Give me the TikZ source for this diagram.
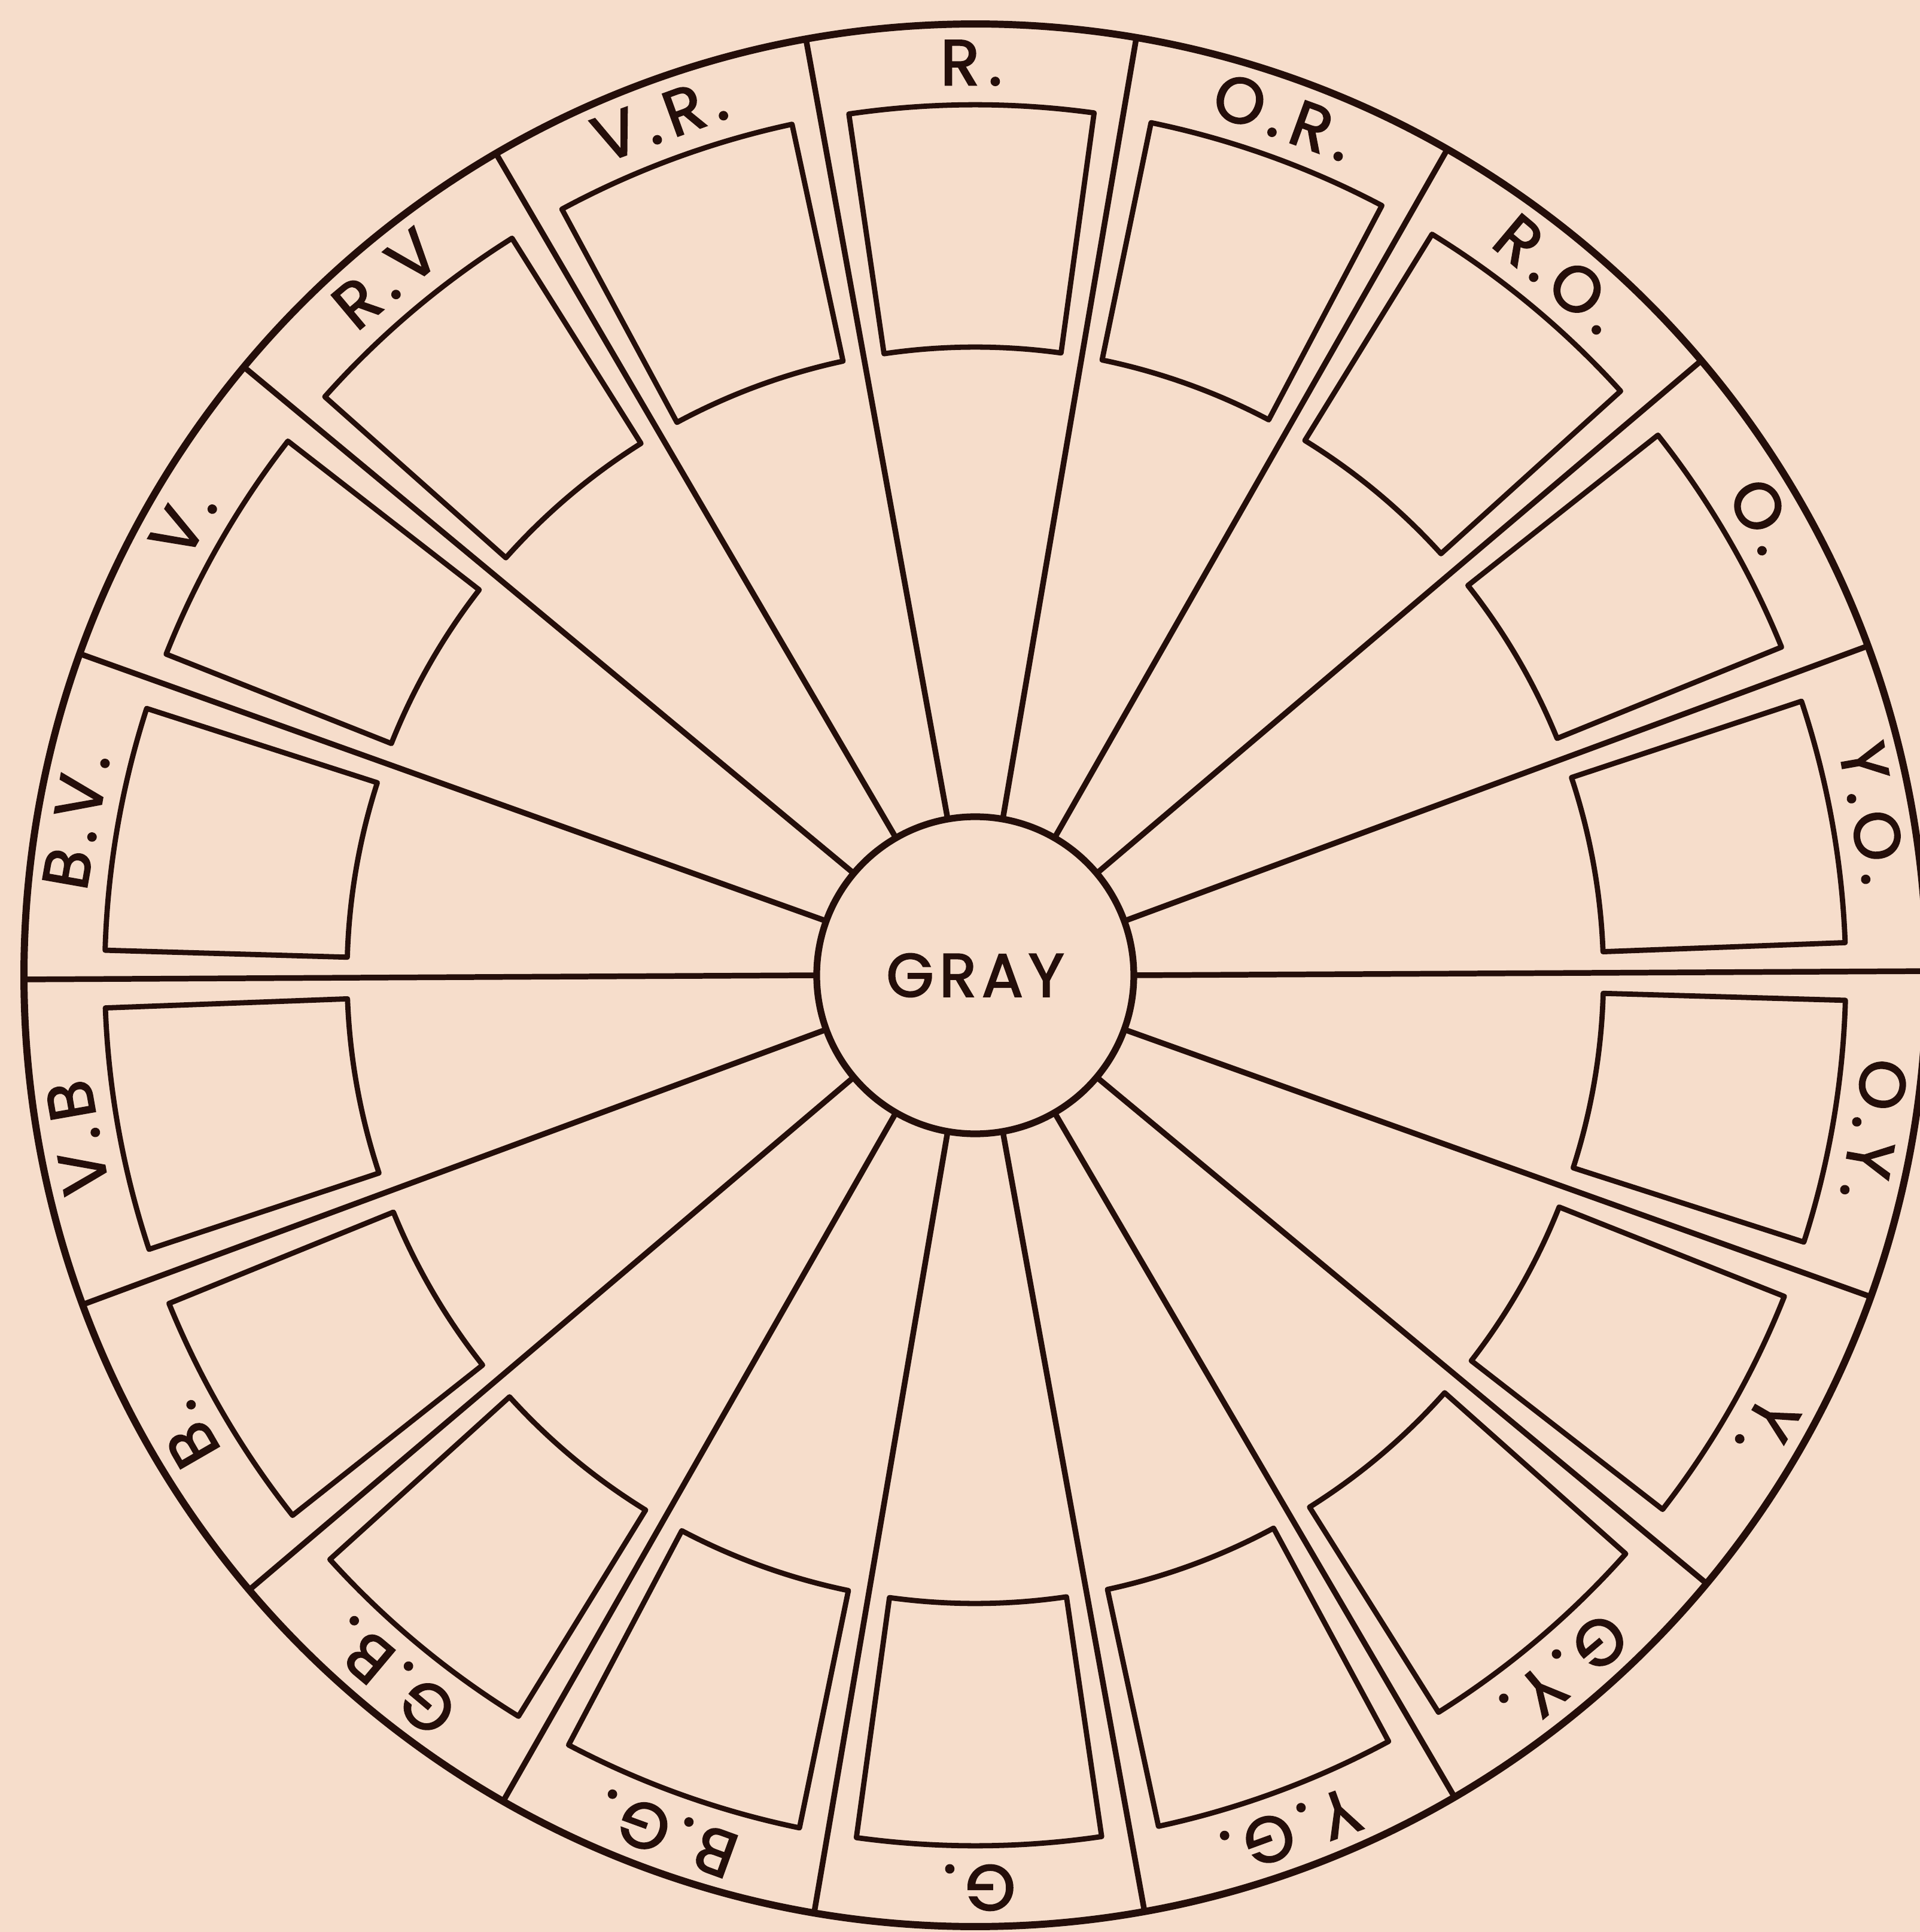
\documentclass[tikz,border=0pt]{standalone}
\usepackage{fontspec}
\setmainfont{Poppins}
\newfontfamily\lblfont{Poppins}[FakeBold=2.4, LetterSpace=14]
\newfontfamily\grayfont{Poppins}[FakeBold=2.4, LetterSpace=9]
\definecolor{paper}{RGB}{246,221,203}
\definecolor{ink}{RGB}{36,14,10}
\begin{document}
\begin{tikzpicture}[
  ringline/.style={draw=ink, line width=3.4pt},
  spoke/.style={draw=ink, line width=2.7pt},
  swatch/.style={draw=ink, line width=2.5pt, line join=round},
  lbl/.style={text=ink, font=\lblfont\fontsize{30.5}{32}\selectfont, inner sep=0pt},
]
\useasboundingbox[fill=paper] (-16.30,-15.99) rectangle (15.79,16.30);
\begin{scope}[rotate=0.25]
  \node[circle, draw=ink, line width=3.2pt, minimum size=5.3cm, inner sep=0pt, outer sep=0pt,
        text=ink, font=\grayfont\fontsize{29}{31}\selectfont] (gray) at (0,0) {GRAY};
  \draw[ringline] (0,0) circle[radius=15.9cm];
  \foreach \a in {0,20,...,340}
    \draw[spoke] (gray.\a) -- (\a:15.9cm);
  \foreach \c in {10,30,...,350}
    \draw[swatch] ({\c-8.1}:10.5cm) arc[start angle={\c-8.1}, end angle={\c+8.1}, radius=10.5cm]
      -- ({\c+8.1}:14.55cm) arc[start angle={\c+8.1}, end angle={\c-8.1}, radius=14.55cm] -- cycle;
  \foreach \a/\t [count=\i] in {90/R., 70/O.R., 50/R.O., 30/O., 10/Y.O., -10/O.Y., -30/Y., -50/G.Y.,
      -70/Y.G., -90/G., -110/B.G., -130/G.B., -150/B., -170/V.B, 170/B.V., 150/V., 130/R.V, 110/V.R.}
    \node[lbl, rotate={\a-90}] (lab\i) at (\a:15.25cm) {\t};
\end{scope}
\end{tikzpicture}
\end{document}
